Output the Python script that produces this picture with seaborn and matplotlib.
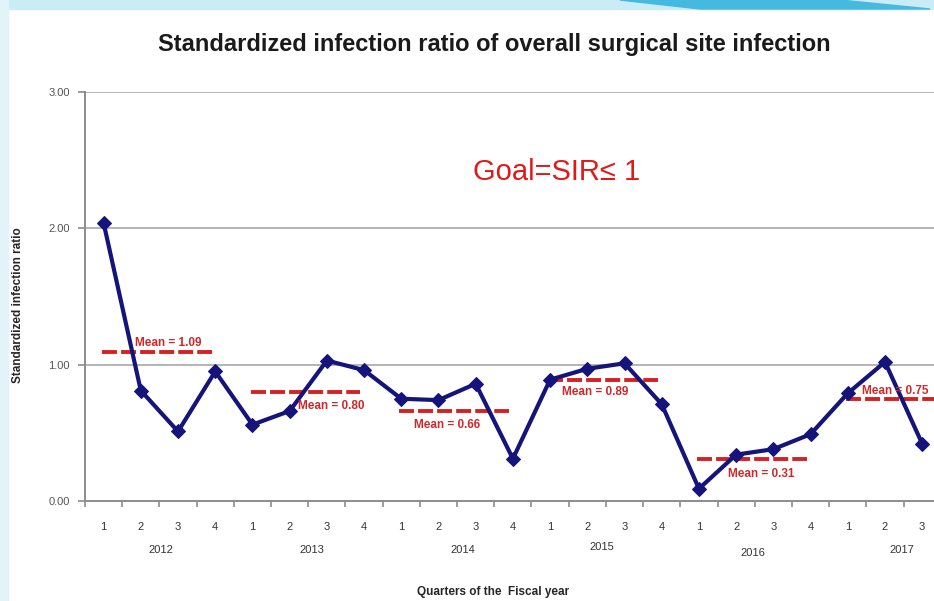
import matplotlib
matplotlib.use('Agg')
import matplotlib.pyplot as plt
import seaborn as sns
import pandas as pd
from matplotlib.patches import Rectangle, Polygon

# Data
years = ['2012', '2013', '2014', '2015', '2016', '2017']
quarters = ['1', '2', '3', '4'] * 5 + ['1', '2', '3']
sir = [2.04, 0.81, 0.51, 0.95,
       0.56, 0.66, 1.03, 0.96,
       0.75, 0.74, 0.86, 0.31,
       0.89, 0.97, 1.01, 0.71,
       0.09, 0.34, 0.38, 0.49,
       0.79, 1.02, 0.42]
year_means = [1.09, 0.80, 0.66, 0.89, 0.31, 0.75]
mean_labels = ['Mean = 1.09', 'Mean = 0.80', 'Mean = 0.66',
               'Mean = 0.89', 'Mean = 0.31', 'Mean = 0.75']

df = pd.DataFrame({'idx': range(len(sir)), 'SIR': sir})

sns.set_style('white')
plt.rcParams['font.family'] = ['Liberation Sans', 'DejaVu Sans']

fig = plt.figure(figsize=(9.34, 6.01), dpi=100)
W, H = 934, 601

# slide decoration: light blue band on top and left edge
fig.patches.append(Rectangle((0, 1 - 9 / H), 1, 9 / H, transform=fig.transFigure,
                             color='#c9ecf6', zorder=0))
fig.patches.append(Polygon([(620 / W, 1), (840 / W, 1), (930 / W, 1 - 9 / H), (700 / W, 1 - 9 / H)],
                           closed=True, transform=fig.transFigure, color='#45b9e0', zorder=0))
fig.patches.append(Rectangle((0, 0), 8 / W, 1, transform=fig.transFigure,
                             color='#e2f4fa', zorder=0))

ax = fig.add_axes([85 / W, 1 - 501 / H, 893 / W, 409 / H])
ax.set_facecolor('none')

# yearly mean lines
grey = '#8c8c8c'
for i, m in enumerate(year_means):
    start = i * 4
    ax.plot([start - 0.05, start + 2.9], [m, m], color='#d42222', lw=2.8,
            dashes=(3.85, 1.05), zorder=2, solid_capstyle='butt')

offsets = [(0.84, 0.07), (1.22, -0.10), (0.35, -0.10), (0.32, -0.09), (0.78, -0.11), (0.39, 0.06)]
for i, (lab, m) in enumerate(zip(mean_labels, year_means)):
    dx, dy = offsets[i]
    ax.text(i * 4 + dx, m + dy, lab, color='#cc2a2a', fontsize=8.5, fontweight='bold',
            ha='left', va='center', zorder=4)

sns.lineplot(data=df, x='idx', y='SIR', ax=ax, color='#14147a', lw=3,
             marker='D', markersize=7, markeredgecolor='#14147a', zorder=3)

ax.set_ylim(0, 3)
ax.set_xlim(-0.5, 23.5)
ax.set_yticks([0, 1, 2, 3])
ax.set_yticklabels(['0.00', '1.00', '2.00', '3.00'])
for y in [1, 2, 3]:
    ax.axhline(y, color='#b4b4b4', lw=1.4, zorder=1)

ax.set_xticks([k - 0.5 for k in range(24)])
ax.set_xticklabels([])
ax.set_xticks(list(range(len(quarters))), minor=True)
ax.set_xticklabels(quarters, minor=True)
ax.tick_params(axis='x', which='major', length=4, width=1.2, color=grey, direction='out', bottom=True)
ax.tick_params(axis='x', which='minor', length=0, pad=15, labelsize=8, labelcolor='#333333')
ax.tick_params(axis='y', length=5, width=1.2, color=grey, direction='out', left=True,
               labelsize=8, labelcolor='#555555', pad=6)

year_nudge = [(0.05, 0), (0.1, 0), (0.15, 0), (-0.1, 0.008), (-0.05, -0.008), (-0.05, 0)]
for y_i, yr in enumerate(years):
    n = min(4, len(quarters) - 4 * y_i)
    nx, ny = year_nudge[y_i]
    ax.text(4 * y_i + (n - 1) / 2 + 0.5 * (n < 4) + nx, -0.12 + ny, yr,
            transform=ax.get_xaxis_transform(),
            ha='center', va='center', fontsize=8, color='#333333')

for s in ['top', 'right']:
    ax.spines[s].set_visible(False)
for s in ['left', 'bottom']:
    ax.spines[s].set_color(grey)
    ax.spines[s].set_linewidth(1.4)
ax.set_xlabel('')
ax.set_ylabel('')

fig.text(494 / W, 1 - 44 / H, 'Standardized infection ratio of overall surgical site infection',
         ha='center', va='center', fontsize=17, fontweight='bold', color='#1a1a1a')
fig.text(18 / W, 1 - 305 / H, 'Standardized infection ratio', rotation=90,
         ha='center', va='center', fontsize=8.5, fontweight='bold')
fig.text(493 / W, 1 - 592 / H, 'Quarters of the  Fiscal year',
         ha='center', va='center', fontsize=8.5, fontweight='bold')
fig.text(473 / W, 1 - 172 / H, 'Goal=SIR\u2264 1', ha='left', va='center',
         fontsize=21, color='#e01a1a')

fig.savefig('out.png', dpi=100)
